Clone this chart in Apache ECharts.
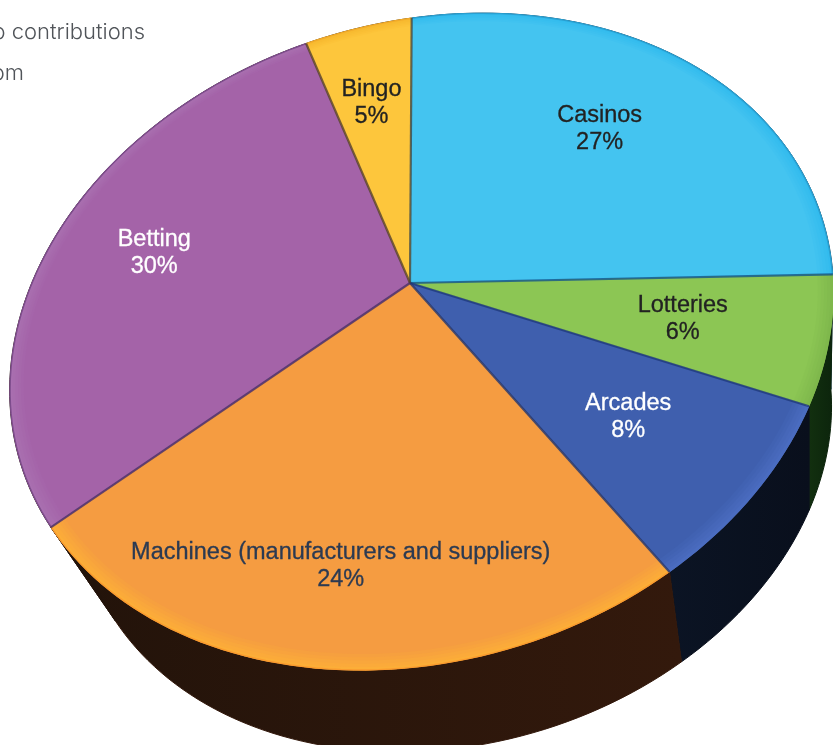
<!DOCTYPE html>
<html><head><meta charset="utf-8">
<style>html,body{margin:0;padding:0;background:#fff;overflow:hidden}#c{width:833px;height:745px}</style>
<script src="https://cdn.jsdelivr.net/npm/echarts@6/dist/echarts.min.js"></script>
</head><body><div id="c"></div>
<script>
// data
const categories = ['Casinos','Lotteries','Arcades','Machines (manufacturers and suppliers)','Betting','Bingo'];
const values = [27,6,8,24,30,5];
// styles
const topColors  = ['#44c4f0','#8cc654','#3f5fae','#f59c41','#a463a8','#fdc63c'];
const rimColors  = ['#32bbee','#7fb84c','#4a6cc0','#fcae38','#a96fb0','#f7b82e'];
const edgeColors = ['#2a9fd0','#7fb84c','#4a6cc0','#f99a2e','#7d4c8c','#f0a92a'];
const seamColors = ['#3f4a4a','#14558c','#1f3a7c','#1f3570','#4a3166','#54402f'];
const sideColors = [['#0d3a55','#0d3a55'],['#12300f','#0c240c'],['#0b1424','#090f1c'],['#22130a','#33190c'],['#22130a','#22130a'],['#3a2a08','#3a2a08']];
const labelColors = ['#222222','#222222','#ffffff','#2b3a52','#ffffff','#222222'];
const labelRadius = [.67,.67,.67,.77,.70,.67];
const labelTurn = [-.5,0,0,0,-1,-.5];
// projection of the tilted disc
const apex = [410,283], M = {a:404.5,b:-2,c:-48,d:314,e:-.0286,f:-.185};
const lower = {dx:34,dy:114.4,s:.915};
const total = values.reduce((a,b)=>a+b,0);
const starts = []; values.reduce((s,v,i)=>(starts[i]=s,s+v),0);
function proj(deg,r){
  const t=deg*Math.PI/180,u=r*Math.sin(t),v=-r*Math.cos(t),w=1+M.e*u+M.f*v;
  return [(M.a*u+M.b*v)/w,(M.c*u+M.d*v)/w];
}
const top_=(deg,r)=>{const p=proj(deg,r);return [apex[0]+p[0],apex[1]+p[1]];};
const bot=(deg)=>{const p=proj(deg,1);return [apex[0]+lower.dx+lower.s*p[0],apex[1]+lower.dy+lower.s*p[1]];};
function arcPts(i,fn){
  const a0=starts[i]/total*360,a1=(starts[i]+values[i])/total*360,n=Math.ceil((a1-a0)/1.5),o=[];
  for(let k=0;k<=n;k++)o.push(fn(a0+(a1-a0)*k/n));
  return o;
}
function mix(c1,c2,t){
  const h=c=>[1,3,5].map(i=>parseInt(c.substr(i,2),16));
  const a=h(c1),b=h(c2);
  return 'rgb('+a.map((x,i)=>Math.round(x+(b[i]-x)*t)).join(',')+')';
}
const sideItem=(p,api)=>{
  const i=api.value(0);
  const pts=arcPts(i,d=>top_(d,1)).concat(arcPts(i,bot).reverse());
  return {type:'polygon',shape:{points:pts},style:{fill:{type:'linear',x:0,y:0,x2:1,y2:0,colorStops:[{offset:0,color:sideColors[i][0]},{offset:1,color:sideColors[i][1]}]},stroke:sideColors[i][1],lineWidth:1}};
};
const topItem=(p,api)=>{
  const i=api.value(0),kids=[],layers=6,band=.035;
  for(let k=0;k<layers;k++){
    const r=1-band*k/(layers-1);
    kids.push({type:'polygon',shape:{points:[apex.slice()].concat(arcPts(i,d=>top_(d,r)))},
      style:{fill:mix(rimColors[i],topColors[i],k/(layers-1))}});
  }
  kids.push({type:'polyline',shape:{points:arcPts(i,d=>top_(d,.999))},style:{fill:'none',stroke:edgeColors[i],lineWidth:1.4}});
  return {type:'group',children:kids};
};
const seamItem=(p,api)=>{
  const i=api.value(0),a=starts[i]/total*360;
  return {type:'line',shape:{x1:apex[0],y1:apex[1],x2:top_(a,1)[0],y2:top_(a,1)[1]},style:{stroke:seamColors[i],lineWidth:2.2,opacity:.8}};
};
const labelItem=(p,api)=>{
  const i=api.value(0),mid=(starts[i]+values[i]/2)/total*360+labelTurn[i],q=top_(mid,labelRadius[i]);
  return {type:'text',x:q[0],y:q[1],style:{text:categories[i]+'\n'+values[i]+'%',fill:labelColors[i],stroke:labelColors[i],lineWidth:.3,
    font:'500 23.5px "Liberation Sans", sans-serif',lineHeight:27,align:'center',verticalAlign:'middle'}};
};
const idx=categories.map((c,i)=>[i,values[i]]);
const mk=(fn,z)=>({type:'custom',coordinateSystem:'none',renderItem:fn,data:idx,z:z,silent:true,animation:false,encode:{}});
const chart=echarts.init(document.getElementById('c'),null,{renderer:'canvas'});
chart.setOption({
  animation:false,backgroundColor:'#fff',
  series:[mk(sideItem,1),mk(topItem,2),mk(seamItem,3),mk(labelItem,4)],
  graphic:[
    {type:'text',x:145,y:32,style:{text:'to contributions',fill:'#505459',font:'300 22px Inter, "Liberation Sans", sans-serif',align:'right',verticalAlign:'middle'}},
    {type:'text',x:24,y:73,style:{text:'from',fill:'#505459',font:'300 22px Inter, "Liberation Sans", sans-serif',align:'right',verticalAlign:'middle'}}
  ]
});
</script></body></html>
